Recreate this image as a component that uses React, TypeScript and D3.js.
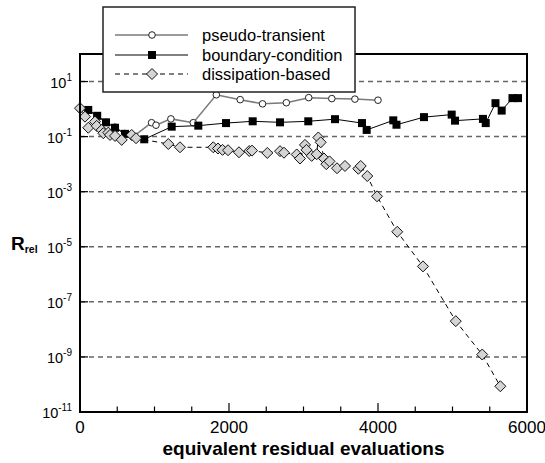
import React from "react";
import * as d3 from "d3";

// pseudo-transient (open circles)
const ptX = [0, 110, 230, 350, 470, 600, 710, 960, 1020, 1220, 1520, 1830, 2150, 2450, 2770, 3070, 3380, 3690, 4000];
const ptY = [1.0, 0.9, 0.55, 0.33, 0.22, 0.13, 0.098, 0.32, 0.26, 0.44, 0.32, 3.3, 2.2, 1.55, 1.7, 2.6, 2.4, 2.3, 2.1];

// boundary-condition (filled squares)
const bcX = [111, 231, 349, 470, 604, 862, 1231, 1588, 1960, 2318, 2685, 3064, 3423, 3785, 3848, 4205, 4248, 4617, 4989, 5034, 5409, 5446, 5577, 5660, 5805, 5879];
const bcY = [0.93, 0.57, 0.33, 0.21, 0.126, 0.08, 0.23, 0.25, 0.31, 0.36, 0.33, 0.36, 0.43, 0.31, 0.175, 0.39, 0.27, 0.51, 0.63, 0.38, 0.44, 0.31, 1.64, 0.88, 2.5, 2.5];

// dissipation-based (gray diamonds)
const dbX = [0, 67, 111, 201, 224, 291, 313, 380, 403, 470, 560, 694, 752, 1185, 1342, 1789, 1852, 1913, 1987, 2134, 2272, 2309, 2514, 2685, 2738, 2909, 2953, 3020, 3040, 3110, 3177, 3199, 3231, 3275, 3306, 3349, 3450, 3557, 3736, 3768, 3856, 3987, 4258, 4604, 5044, 5399, 5642];
const dbY = [1.08, 0.53, 0.21, 0.35, 0.245, 0.175, 0.133, 0.14, 0.115, 0.106, 0.076, 0.115, 0.0875, 0.054, 0.041, 0.041, 0.037, 0.033, 0.032, 0.027, 0.03, 0.031, 0.0255, 0.0297, 0.026, 0.0225, 0.016, 0.05, 0.033, 0.02, 0.023, 0.093, 0.062, 0.016, 0.01, 0.0126, 0.0071, 0.0086, 0.0068, 0.0086, 0.0037, 6.8e-4, 3.5e-5, 1.94e-6, 1.99e-8, 1.22e-9, 8.6e-11];

const xTicks = [0, 2000, 4000, 6000];
const yExps = [1, -1, -3, -5, -7, -9, -11];
const legendLabels = ["pseudo-transient", "boundary-condition", "dissipation-based"];

const W = 545, H = 463;
const margin = { left: 80, right: 18, top: 54, bottom: 51 };

export default function App() {
  const x = d3.scaleLinear().domain([0, 6000]).range([margin.left, W - margin.right]);
  const y = d3.scaleLog().domain([1e-11, 1e2]).range([H - margin.bottom, margin.top]);

  const pts = (xs: number[], ys: number[]) => xs.map((v, i) => [x(v), y(ys[i])] as [number, number]);
  const line = d3.line<[number, number]>();
  const pt = pts(ptX, ptY), bc = pts(bcX, bcY), db = pts(dbX, dbY);
  const minor = d3.range(0, 6001, 500);
  const x0 = x(0), x1 = x(6000), yb = y(1e-11), yt = y(1e2);

  const diamond = (cx: number, cy: number, r = 5.5) =>
    `M${cx},${cy - r}L${cx + r},${cy}L${cx},${cy + r}L${cx - r},${cy}Z`;

  const lg = { x: 103, y: 7, w: 252, h: 85 };
  const rowY = [35, 55, 74];

  return (
    <svg width={W} height={H} style={{ position: "absolute", left: 0, top: 0, background: "#fff" }}
      fontFamily="Liberation Sans, Arial, Helvetica, sans-serif">
      {/* grid */}
      {yExps.slice(0, 6).map(e => (
        <line key={e} x1={x0} x2={x1} y1={y(Math.pow(10, e))} y2={y(Math.pow(10, e))}
          stroke="#666" strokeWidth={1.5} strokeDasharray="5,4" />
      ))}
      {yExps.map(e => (
        <line key={"t" + e} x1={x0} x2={x0 + 8} y1={y(Math.pow(10, e))} y2={y(Math.pow(10, e))} stroke="#000" strokeWidth={1.2} />
      ))}
      {minor.map(v => (
        <line key={v} x1={x(v)} x2={x(v)} y1={yb} y2={yb - (v % 2000 === 0 ? 9 : 5.5)} stroke="#000" strokeWidth={1.2} />
      ))}

      {/* series */}
      <path d={line(pt) || ""} fill="none" stroke="#7a7a7a" strokeWidth={1.5} />
      {pt.map((p, i) => <circle key={i} cx={p[0]} cy={p[1]} r={3.3} fill="#fff" stroke="#222" strokeWidth={1} />)}
      <path d={line(bc) || ""} fill="none" stroke="#000" strokeWidth={1} />
      {bc.map((p, i) => <rect key={i} x={p[0] - 4} y={p[1] - 4} width={8} height={8} fill="#000" />)}
      <path d={line(db) || ""} fill="none" stroke="#000" strokeWidth={1} strokeDasharray="5,4" />
      {db.map((p, i) => <path key={i} d={diamond(p[0], p[1])} fill="#d4d4d4" stroke="#111" strokeWidth={1} />)}

      {/* frame */}
      <rect x={x0} y={yt} width={x1 - x0} height={yb - yt} fill="none" stroke="#000" strokeWidth={2} />

      {/* tick labels */}
      {xTicks.map(v => (
        <text key={v} x={x(v)} y={yb + 21} textAnchor="middle" fontSize={17}>{v}</text>
      ))}
      {yExps.map(e => (
        <text key={e} x={72} y={y(Math.pow(10, e)) + 6} textAnchor="end" fontSize={14.5}>
          <tspan>10</tspan>
          <tspan dy={-7} fontSize={10}>{e}</tspan>
        </text>
      ))}

      {/* axis titles */}
      <text x={(x0 + x1) / 2} y={455} textAnchor="middle" fontSize={19} fontWeight="bold">equivalent residual evaluations</text>
      <text x={11} y={250} fontSize={19} fontWeight="bold">R<tspan fontSize={10.5} dy={3}>rel</tspan></text>

      {/* legend */}
      <rect x={lg.x} y={lg.y} width={lg.w} height={lg.h} fill="#fff" stroke="#222" strokeWidth={1.5} />
      <line x1={115} x2={188} y1={rowY[0]} y2={rowY[0]} stroke="#7a7a7a" strokeWidth={1.5} />
      <circle cx={152} cy={rowY[0]} r={3.3} fill="#fff" stroke="#222" />
      <line x1={115} x2={188} y1={rowY[1]} y2={rowY[1]} stroke="#000" strokeWidth={1} />
      <rect x={148} y={rowY[1] - 4} width={8} height={8} fill="#000" />
      <line x1={115} x2={188} y1={rowY[2]} y2={rowY[2]} stroke="#000" strokeWidth={1} strokeDasharray="5,4" />
      <path d={diamond(152, rowY[2])} fill="#d4d4d4" stroke="#111" />
      {legendLabels.map((t, i) => (
        <text key={t} x={202} y={rowY[i] + 6} fontSize={16.5}>{t}</text>
      ))}
    </svg>
  );
}
